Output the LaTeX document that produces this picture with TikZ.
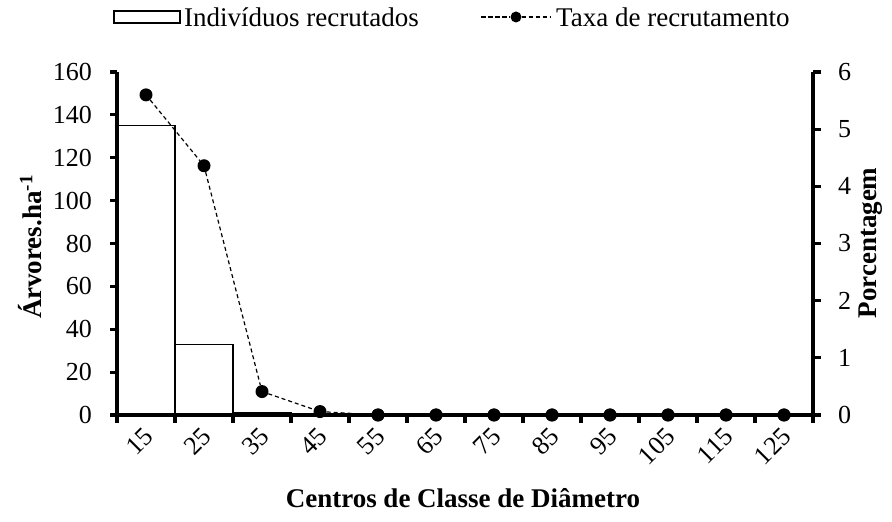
\documentclass[tikz,border=0pt]{standalone}
\usepackage{fontspec}
\setmainfont{Liberation Serif}
\usetikzlibrary{positioning}
\tikzset{
  axisline/.style={line width=3.2pt},
  barbox/.style={draw, line width=1.5pt, fill=white},
  ratedot/.style={circle, fill=black, inner sep=0pt, minimum size=13pt},
  rateline/.style={line width=1.2pt, dash pattern=on 4pt off 3pt},
  ticklabel/.style={font=\fontsize{26}{28}\selectfont, inner sep=2pt},
  axistitle/.style={font=\fontsize{27}{29}\selectfont\bfseries},
  legendtext/.style={font=\fontsize{27}{29}\selectfont, anchor=west, inner sep=1pt},
}
\begin{document}
\begin{tikzpicture}
\useasboundingbox (0pt,0pt) rectangle (892pt,522pt);
\begin{scope}[shift={(117pt,107pt)}, x=58pt, y=2.14375pt]
  \draw[barbox] (0,0) rectangle (1,135);
  \draw[barbox] (1,0) rectangle (2,33);
  \draw[barbox] (2,0) rectangle (3,1);
  \foreach \r [count=\i] in {5.6,4.36,0.41,0.06,0,0,0,0,0,0,0,0}
    \node[ratedot] (p\i) at (\i-0.5,{\r*160/6}) {};
  \draw[rateline] (p1) -- (p2) -- (p3) -- (p4) -- (p5);
  \draw[axisline] (0,160) -- (0,0) -- (12,0) -- (12,160);
  \foreach \v in {0,20,...,160} {
    \draw[axisline] (0,\v) -- ++(-7pt,0);
    \node[ticklabel, anchor=east] (l\v) at ([xshift=-23pt]0,\v) {\v};
  }
  \foreach \v in {0,...,6} {
    \draw[axisline] (12,{\v*160/6}) -- ++(8pt,0);
    \node[ticklabel, anchor=west] (r\v) at ([xshift=23pt]12,{\v*160/6}) {\v};
  }
  \foreach \i in {0,...,12}
    \draw[axisline] (\i,0) -- ++(0,-8pt);
  \foreach \c [count=\i] in {15,25,...,125}
    \node[ticklabel, rotate=45, anchor=east] (c\c) at ([xshift=4pt,yshift=-16pt]\i-0.5,0) {\c};
  \foreach \i in {5,...,12}
    \node[ratedot] at (p\i) {};
\end{scope}
\node[draw, line width=2pt, minimum width=66pt, minimum height=12pt, inner sep=0pt] (legbar) at (147pt,505pt) {};
\node[legendtext, right=2pt of legbar] (legbartext) {Indivíduos recrutados};
\coordinate (ratestart) at (481pt,505pt);
\node[ratedot, minimum size=11pt] (legdot) at (516pt,505pt) {};
\coordinate (rateend) at (551pt,505pt);
\draw[rateline, dash pattern=on 4.5pt off 2.5pt] (ratestart) -- (legdot) -- (rateend);
\node[legendtext] (legratetext) at (555pt,505pt) {Taxa de recrutamento};
\node[axistitle, rotate=90] (ytitle) at (30pt,275pt) {Árvores.ha\textsuperscript{-1}};
\node[axistitle, rotate=90] (ptitle) at (871pt,279pt) {Porcentagem};
\node[axistitle] (xtitle) at (463pt,24pt) {Centros de Classe de Diâmetro};
\end{tikzpicture}
\end{document}
